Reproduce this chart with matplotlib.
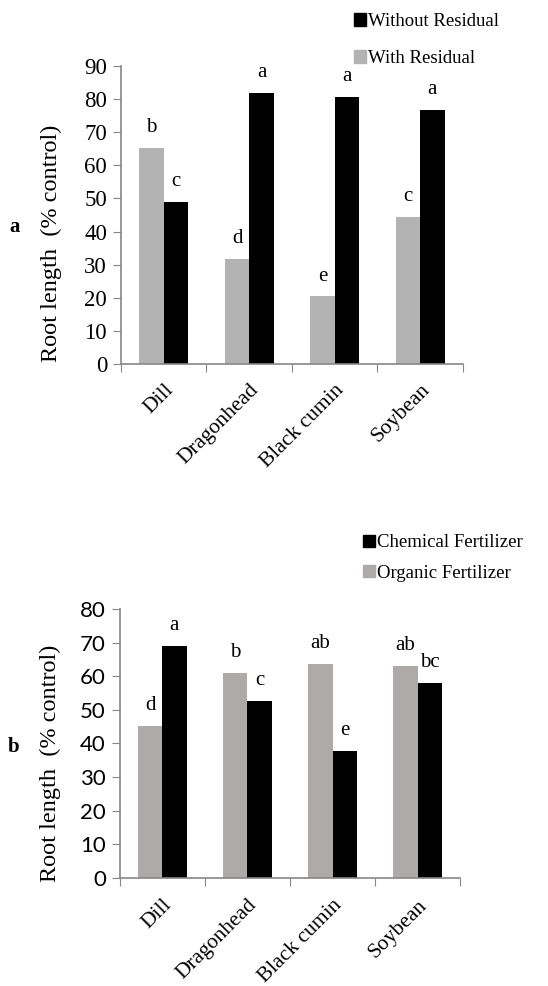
import matplotlib
matplotlib.use("Agg")
import matplotlib.pyplot as plt
import numpy as np
from matplotlib.patches import Patch

categories = ["Dill", "Dragonhead", "Black cumin", "Soybean"]

# Panel a
a_with_residual = [65.3, 31.8, 20.4, 44.4]
a_without_residual = [48.9, 82.0, 80.7, 76.6]
a_with_letters = ["b", "d", "e", "c"]
a_without_letters = ["c", "a", "a", "a"]

# Panel b
b_organic = [45.2, 61.0, 63.6, 62.9]
b_chemical = [69.0, 52.6, 37.6, 58.1]
b_organic_letters = ["d", "b", "ab", "ab"]
b_chemical_letters = ["a", "c", "e", "bc"]

SERIF = "Liberation Serif"
SANS = "Lato"
SPINE = "#868686"

fig = plt.figure(figsize=(5.48, 9.86), dpi=100)


def panel(rect, gray_vals, black_vals, gray_letters, black_letters, ymax,
          gray_color, tick_font, tick_size, legend_labels, legend_anchor,
          legend_spacing, panel_label, panel_label_pos, xlab_pad, ylab_y):
    ax = fig.add_axes(rect)
    n = len(categories)
    centers = np.arange(n) + 0.5
    w = 1 / 3.5
    ax.bar(centers - w / 2, gray_vals, width=w, color=gray_color, zorder=2)
    ax.bar(centers + w / 2, black_vals, width=w, color="black", zorder=2)
    for x, v, t in zip(centers - w / 2, gray_vals, gray_letters):
        ax.annotate(t, (x, v), xytext=(0, 11.5), textcoords="offset points",
                    ha="center", va="baseline", fontsize=15, family=SERIF)
    for x, v, t in zip(centers + w / 2, black_vals, black_letters):
        ax.annotate(t, (x, v), xytext=(0, 11.5), textcoords="offset points",
                    ha="center", va="baseline", fontsize=15, family=SERIF)
    ax.set_xlim(0, n)
    ax.set_ylim(0, ymax)
    ax.set_yticks(np.arange(0, ymax + 1, 10))
    for lab in ax.get_yticklabels():
        lab.set_family(tick_font)
        lab.set_fontsize(tick_size)
    ax.set_xticks(np.arange(n + 1))
    ax.set_xticklabels([])
    ax.set_xticks(centers, minor=True)
    ax.set_xticklabels(categories, minor=True, rotation=45, ha="right",
                       rotation_mode="anchor", family=SERIF, fontsize=15.5)
    ax.tick_params(axis="x", which="minor", length=0, pad=xlab_pad)
    ax.tick_params(axis="x", which="major", length=6, color=SPINE, direction="out")
    ax.tick_params(axis="y", length=6, color=SPINE, direction="out", pad=4)
    for s in ["top", "right"]:
        ax.spines[s].set_visible(False)
    for s in ["left", "bottom"]:
        ax.spines[s].set_color(SPINE)
        ax.spines[s].set_linewidth(1.2)
    ax.set_ylabel("Root length  (% control)", family=SERIF, fontsize=17.5)
    ax.yaxis.set_label_coords(-0.172, ylab_y)
    handles = [Patch(color="black"), Patch(color=gray_color)]
    fig.legend(handles, legend_labels, loc="upper left", bbox_to_anchor=legend_anchor,
               bbox_transform=fig.transFigure, frameon=False, borderpad=0,
               handlelength=0.65, handleheight=0.65, handletextpad=0.12,
               labelspacing=legend_spacing, prop={"family": SERIF, "size": 13.5})
    fig.text(panel_label_pos[0], panel_label_pos[1], panel_label, family=SERIF,
             fontsize=15, fontweight="bold", ha="left", va="center")
    return ax


panel([0.2208, 0.6308, 0.624, 0.3022], a_with_residual, a_without_residual,
      a_with_letters, a_without_letters, 90, "#b3b3b3", SERIF, 16.5,
      ["Without Residual", "With Residual"], (0.628, 0.996), 1.05,
      "a", (0.018, 1 - 227 / 986), 12, 0.406)

panel([0.2184, 0.1098, 0.6215, 0.2726], b_organic, b_chemical,
      b_organic_letters, b_chemical_letters, 80, "#aeaaaa", SANS, 16,
      ["Chemical Fertilizer", "Organic Fertilizer"], (0.645, 1 - 525 / 986), 0.7,
      "b", (0.015, 1 - 747 / 986), 13, 0.427)

fig.savefig("out.png", dpi=100)
